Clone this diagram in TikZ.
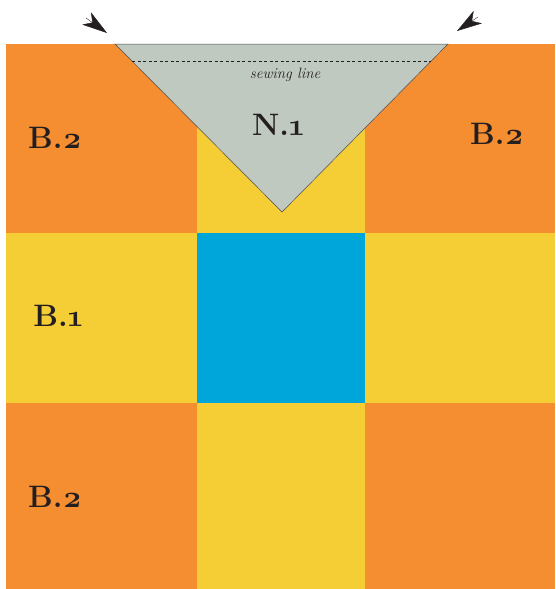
\documentclass[tikz,border=0pt]{standalone}
\usepackage{fontspec}
\setmainfont{Latin Modern Roman}[Numbers=OldStyle]
\usetikzlibrary{arrows.meta}
\definecolor{qorange}{HTML}{F58D31}
\definecolor{qyellow}{HTML}{F5CD35}
\definecolor{qblue}{HTML}{00A6DA}
\definecolor{qgray}{HTML}{C0C9C0}
\definecolor{qink}{HTML}{231F20}
\tikzset{
  lab/.style={text=qink, font=\fontsize{31}{32}\selectfont\bfseries, inner sep=0pt},
  arrowmark/.style={qink, line width=0.4pt, -{Stealth[length=25pt,width=15pt,inset=7pt]}}
}
\begin{document}
\begin{tikzpicture}[x=1pt,y=-1pt]
\useasboundingbox (0,0) rectangle (555,589);
% grid
\fill[qorange] (6,44) rectangle (197,233);
\fill[qyellow] (197,44) rectangle (365,233);
\fill[qorange] (365,44) rectangle (555,233);
\fill[qyellow] (6,233) rectangle (197,403);
\fill[qblue] (197,233) rectangle (365,403);
\fill[qyellow] (365,233) rectangle (555,403);
\fill[qorange] (6,403) rectangle (197,589);
\fill[qyellow] (197,403) rectangle (365,589);
\fill[qorange] (365,403) rectangle (555,589);
% triangle
\coordinate (tl) at (115,44);
\coordinate (tr) at (448,44);
\coordinate (ap) at (282,212);
\filldraw[fill=qgray, draw=qink!80, line width=0.5pt] (tl) -- (tr) -- (ap) -- cycle;
\coordinate (sa) at (132,61);
\coordinate (sb) at (431,61);
\draw[qink, line width=0.5pt, dash pattern=on 3pt off 2.5pt] (sa) -- (sb);
\node[text=qink, font=\fontsize{15}{16}\selectfont\itshape, inner sep=0pt] (sew) at (285,75) {sewing line};
% labels
\node[lab] (n1) at (278,125) {N.1};
\node[lab] (b2a) at (55,138) {B.2};
\node[lab] (b2b) at (497,134) {B.2};
\node[lab] (b1) at (58,316) {B.1};
\node[lab] (b2c) at (55,497) {B.2};
% arrow marks
\coordinate (la) at (86,18);
\coordinate (lb) at (107,33);
\coordinate (ra) at (478,17);
\coordinate (rb) at (457,31);
\draw[arrowmark] (la) -- (lb);
\draw[arrowmark] (ra) -- (rb);
\end{tikzpicture}
\end{document}
